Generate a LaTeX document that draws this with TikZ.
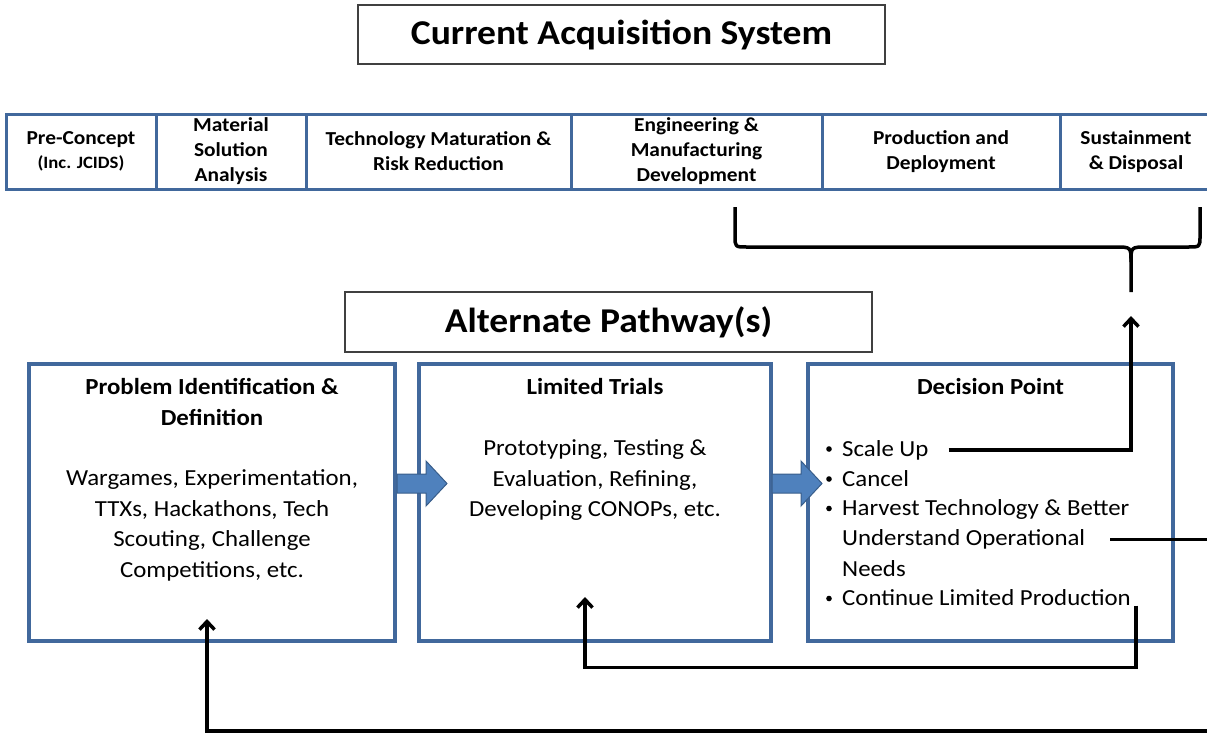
\documentclass[tikz,border=0pt]{standalone}
\usepackage{fontspec}
\setmainfont{Carlito}[FakeStretch=1.08]
\usepackage{xcolor}
\usetikzlibrary{arrows.meta}
\definecolor{phaseblue}{HTML}{41689C}
\definecolor{arrowblue}{HTML}{4F81BD}
\definecolor{arrowedge}{HTML}{385D8A}

\begin{document}
\begin{tikzpicture}[x=1pt,y=-1pt,
    titlebox/.style={draw=black!75, line width=1.2pt, minimum height=59pt, inner sep=0pt, font=\bfseries\fontsize{34.8}{40}\selectfont},
    phase/.style={draw=phaseblue, line width=3pt, minimum height=75pt, inner sep=0pt, align=center, font=\bfseries\fontsize{19.8}{25}\selectfont},
    stage/.style={draw=phaseblue, line width=3.5pt, minimum height=277pt, inner sep=0pt},
    head/.style={anchor=north, inner sep=0pt, align=center, font=\bfseries\fontsize{23}{30.5}\selectfont},
    body/.style={anchor=north, inner sep=0pt, align=center, font=\fontsize{23}{30.5}\selectfont},
    item/.style={anchor=base west, inner sep=0pt, font=\fontsize{23}{30.5}\selectfont},
    flow/.style={fill=arrowblue, draw=arrowedge, line width=1pt, line join=miter},
    link/.style={draw=black, line width=3.5pt, -{Straight Barb[length=8pt,width=15pt,line width=3.5pt]}},
    plain/.style={draw=black, line width=3.5pt}]
    \useasboundingbox (0,0) rectangle (1207,734);

    \node[titlebox, minimum width=527pt] (current) at (621.5,34.5) {Current Acquisition System};

    % phases of the current system
    \node[phase, minimum width=150pt] (preconcept) at (81,151.5) {Pre-Concept\\[-1pt]{\fontsize{17.3}{20}\selectfont(Inc. JCIDS)}};
    \node[phase, minimum width=150pt] (msa) at (231,151.5) {Material\\Solution\\Analysis};
    \node[phase, minimum width=265pt] (tmrr) at (438.5,151.5) {Technology Maturation \&\\Risk Reduction};
    \node[phase, minimum width=251pt] (emd) at (696.5,151.5) {Engineering \&\\Manufacturing\\Development};
    \node[phase, minimum width=238pt] (pd) at (941,151.5) {Production and\\Deployment};
    \node[phase, minimum width=152pt] (sd) at (1136,151.5) {Sustainment\\\& Disposal};

    \coordinate (bracetip) at (1131,292);
    \draw[plain, line join=round] (735,207) -- (735,236) .. controls (735,247) .. (747,247) -- (1115,247)
      .. controls (1131,247) .. (1131,262) -- (bracetip);
    \draw[plain, line join=round] (1131,262) .. controls (1131,247) .. (1147,247) -- (1188,247)
      .. controls (1200,247) .. (1200,236) -- (1200,207);

    \node[titlebox, minimum width=527pt, minimum height=60pt] (alternate) at (608.5,322) {Alternate Pathway(s)};

    % the three stages
    \node[stage, minimum width=366pt] (problem) at (212,502.5) {};
    \node[stage, minimum width=352pt] (trials) at (595,502.5) {};
    \node[stage, minimum width=365pt] (decision) at (990.5,502.5) {};

    \node[head] (problemhead) at (212,378.5) {Problem Identification \&\\Definition};
    \node[body] (problembody) at (212,469.5) {Wargames, Experimentation,\\TTXs, Hackathons, Tech\\Scouting, Challenge\\Competitions, etc.};
    \node[head] (trialshead) at (595,378.5) {Limited Trials};
    \node[body] (trialsbody) at (595,439.5) {Prototyping, Testing \&\\Evaluation, Refining,\\Developing CONOPs, etc.};
    \node[head] (decisionhead) at (990.5,378.5) {Decision Point};

    \node[item] (scaleup) at (842,456) {Scale Up};
    \node[item] (cancel) at (842,486) {Cancel};
    \node[item] (harvest) at (842,515.5) {Harvest Technology \& Better};
    \node[item] (understand) at (842,545.5) {Understand Operational};
    \node[item] (needs) at (842,576) {Needs};
    \node[item] (continue) at (842,605.5) {Continue Limited Production};
    \foreach \n in {scaleup,cancel,harvest,continue}
      \fill ([xshift=-13pt,yshift=7pt]\n.base west) circle (2.8pt);

    % block arrows between the stages
    \draw[flow] (397,474) -- (426,474) -- (426,461) -- (447,483.5) -- (426,506) -- (426,493) -- (397,493) -- cycle;
    \draw[flow] (772,474) -- (801,474) -- (801,461) -- (822,483.5) -- (801,506) -- (801,493) -- (772,493) -- cycle;

    \coordinate (trialsin) at (585,597);
    \coordinate (problemin) at (207,619);
    \coordinate (offright) at (1230,731);
    \draw[link, shorten <=20pt] (scaleup.east) -| ([yshift=-24pt]bracetip);
    \draw[link] ([xshift=5pt]continue.base east) -- ++(0,62) -| (trialsin);
    \draw[link, shorten <=25pt] (understand.east) -- (understand.east -| offright) -- (offright) -| (problemin);
\end{tikzpicture}
\end{document}
